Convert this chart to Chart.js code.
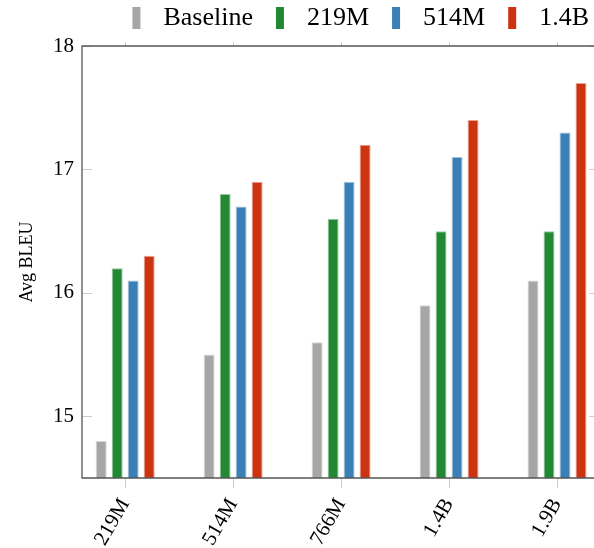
<!DOCTYPE html>
<html>
<head>
<meta charset="utf-8">
<script src="https://cdn.jsdelivr.net/npm/chart.js@4"></script>
<style>
  html, body { margin: 0; padding: 0; background: #fff; overflow: hidden; }
</style>
</head>
<body>
<canvas id="bleuChart" width="594" height="548"></canvas>
<script>
// Model sizes on the x axis
const sizes = ['219M', '514M', '766M', '1.4B', '1.9B'];
// Series (legend) names
const seriesNames = ['Baseline', '219M', '514M', '1.4B'];
// Avg BLEU per series, one value per model size
const baseline = [14.8, 15.5, 15.6, 15.9, 16.1];
const m219 = [16.2, 16.8, 16.6, 16.5, 16.5];
const m514 = [16.1, 16.7, 16.9, 17.1, 17.3];
const b14 = [16.3, 16.9, 17.2, 17.4, 17.7];
const yTicks = [15, 16, 17, 18];

const fills = ['#a6a6a6', '#228833', '#3a7fb6', '#cc3311'];
const edges = ['rgba(166,166,166,0.45)', 'rgba(34,136,51,0.45)', 'rgba(58,127,182,0.45)', 'rgba(204,51,17,0.45)'];

Chart.defaults.font.family = "'Liberation Serif', 'Times New Roman', serif";
Chart.defaults.color = '#000';

// narrow upright legend swatches, padded so the text sits further right
function makeSwatch(color) {
    const c = document.createElement('canvas');
    c.width = 36;
    c.height = 22;
    const g = c.getContext('2d');
    g.fillStyle = color;
    g.fillRect(18, 0, 8, 22);
    return c;
}
const swatches = fills.map(makeSwatch);

// inner/outer ticks and the axis frame, pgfplots style
const framePlugin = {
    id: 'frame',
    afterDatasetsDraw(chart) {
        const { ctx, chartArea: a, scales: { x, y } } = chart;
        ctx.save();
        ctx.lineWidth = 1;
        ctx.strokeStyle = '#cccccc';
        ctx.beginPath();
        yTicks.forEach(v => {
            const py = Math.round(y.getPixelForValue(v)) + 0.5;
            ctx.moveTo(a.left, py); ctx.lineTo(a.left + 10, py);
            ctx.moveTo(a.right - 5, py); ctx.lineTo(a.right, py);
        });
        sizes.forEach((s, i) => {
            const px = Math.round(x.getPixelForValue(i)) + 0.5;
            ctx.moveTo(px, a.bottom); ctx.lineTo(px, a.bottom + 10);
            ctx.moveTo(px, a.top); ctx.lineTo(px, a.top - 4);
        });
        ctx.stroke();

        ctx.strokeStyle = '#555555';
        ctx.lineWidth = 1.3;
        ctx.beginPath();
        ctx.moveTo(a.right, a.top);
        ctx.lineTo(a.left, a.top);
        ctx.lineTo(a.left, a.bottom);
        ctx.lineTo(a.right, a.bottom);
        ctx.stroke();
        ctx.restore();
    }
};

const seriesValues = [baseline, m219, m514, b14];
const datasets = seriesNames.map((name, k) => ({
    label: name,
    data: seriesValues[k].map((v, i) => ({ x: i, y: v })),
    backgroundColor: fills[k],
    borderColor: edges[k],
    borderWidth: 1,
    borderSkipped: 'start',
    categoryPercentage: 64 / 108,
    barPercentage: 11 / 16,
}));

new Chart(document.getElementById('bleuChart').getContext('2d'), {
    type: 'bar',
    data: { datasets: datasets },
    plugins: [framePlugin],
    options: {
        responsive: false,
        animation: false,
        layout: { padding: 0 },
        scales: {
            x: {
                type: 'linear',
                offset: false,
                min: -0.4,
                max: 4 + 37 / 108,
                afterBuildTicks: s => { s.ticks = sizes.map((_, i) => ({ value: i })); },
                ticks: {
                    callback: v => sizes[v],
                    minRotation: 60,
                    maxRotation: 60,
                    autoSkip: false,
                    font: { size: 21 },
                    padding: 8,
                },
                grid: { display: false, offset: false },
                border: { display: false },
                afterFit: s => { s.height = 70; },
            },
            x2: {
                type: 'linear',
                position: 'top',
                offset: false,
                min: 0,
                max: 1,
                ticks: { display: false },
                grid: { display: false },
                border: { display: false },
                afterFit: s => { s.height = 5; },
            },
            y: {
                min: 14.5,
                max: 18,
                afterBuildTicks: s => { s.ticks = yTicks.map(v => ({ value: v })); },
                ticks: { font: { size: 21 }, padding: 0 },
                grid: { display: false },
                border: { display: false },
                title: {
                    display: true,
                    text: 'Avg BLEU',
                    font: { size: 18 },
                    padding: { top: 16, bottom: 0 },
                },
                afterFit: s => { s.width = 82; },
            },
        },
        plugins: {
            legend: {
                position: 'top',
                align: 'end',
                labels: {
                    usePointStyle: true,
                    pointStyleWidth: 36,
                    boxHeight: 22,
                    padding: 5,
                    font: { size: 26 },
                    generateLabels: chart => {
                        const items = Chart.defaults.plugins.legend.labels.generateLabels(chart);
                        items.forEach((it, i) => { it.pointStyle = swatches[i]; });
                        return items;
                    },
                },
            },
            tooltip: { enabled: false },
        },
    },
});
</script>
</body>
</html>
